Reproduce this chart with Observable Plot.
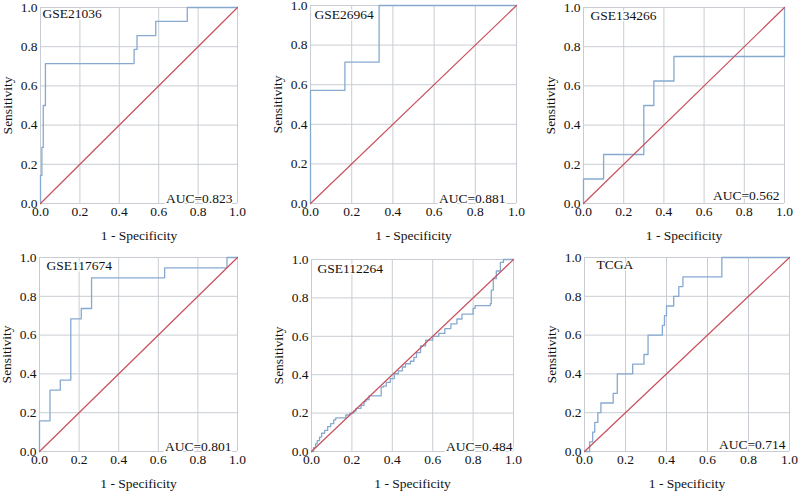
<!DOCTYPE html>
<html>
<head>
<meta charset="utf-8">
<script src="https://cdn.jsdelivr.net/npm/d3@7"></script>
<script src="https://cdn.jsdelivr.net/npm/@observablehq/plot@0.6"></script>
<style>
  html, body { margin: 0; padding: 0; background: #fff; }
  #wrap { position: relative; width: 800px; height: 491px; overflow: hidden; background: #fff; }
  #wrap > svg { position: absolute; overflow: visible; background: transparent; }
  #wrap svg, #wrap svg text { font-family: "Liberation Serif", "DejaVu Serif", serif !important; }
</style>
</head>
<body>
<div id="wrap"></div>
<script>
// ---- data ----
const titles = ["GSE21036", "GSE26964", "GSE134266", "GSE117674", "GSE112264", "TCGA"];
const aucs = ["0.823", "0.881", "0.562", "0.801", "0.484", "0.714"];
const tickValues = [0, 0.2, 0.4, 0.6, 0.8, 1.0];
const diagonal = [0, 1];

const fpr_GSE21036 = [0, 0, 0.007, 0.007, 0.014, 0.014, 0.025, 0.025, 0.475, 0.475, 0.49, 0.49, 0.585, 0.585, 0.745, 0.745, 1];
const tpr_GSE21036 = [0, 0.143, 0.143, 0.286, 0.286, 0.5, 0.5, 0.714, 0.714, 0.786, 0.786, 0.857, 0.857, 0.929, 0.929, 1, 1];

const fpr_GSE26964 = [0, 0, 0.167, 0.167, 0.333, 0.333, 1];
const tpr_GSE26964 = [0, 0.571, 0.571, 0.714, 0.714, 1, 1];

const fpr_GSE134266 = [0, 0, 0.1, 0.1, 0.3, 0.3, 0.35, 0.35, 0.45, 0.45, 1, 1];
const tpr_GSE134266 = [0, 0.125, 0.125, 0.25, 0.25, 0.5, 0.5, 0.625, 0.625, 0.75, 0.75, 1];

const fpr_GSE117674 = [0, 0, 0.053, 0.053, 0.105, 0.105, 0.158, 0.158, 0.211, 0.211, 0.263, 0.263, 0.632, 0.632, 0.947, 0.947, 1];
const tpr_GSE117674 = [0, 0.158, 0.158, 0.316, 0.316, 0.368, 0.368, 0.684, 0.684, 0.737, 0.737, 0.895, 0.895, 0.947, 0.947, 1, 1];

// step-after points (horizontal then vertical)
const fpr_GSE112264 = [0, 0.01, 0.02, 0.028, 0.04, 0.05, 0.065, 0.08, 0.095, 0.11, 0.12, 0.17, 0.19, 0.21, 0.22, 0.245, 0.26, 0.27, 0.285, 0.345, 0.355, 0.37, 0.39, 0.41, 0.43, 0.45, 0.465, 0.49, 0.507, 0.52, 0.54, 0.565, 0.6, 0.63, 0.66, 0.69, 0.72, 0.745, 0.8, 0.81, 0.885, 0.89, 0.9, 0.915, 0.935, 0.95, 1];
const tpr_GSE112264 = [0, 0.02, 0.04, 0.057, 0.075, 0.095, 0.11, 0.13, 0.145, 0.165, 0.175, 0.19, 0.2, 0.21, 0.225, 0.24, 0.26, 0.27, 0.29, 0.335, 0.34, 0.36, 0.38, 0.405, 0.42, 0.44, 0.457, 0.47, 0.49, 0.515, 0.55, 0.58, 0.6, 0.615, 0.64, 0.665, 0.69, 0.715, 0.745, 0.76, 0.77, 0.84, 0.9, 0.94, 0.985, 1, 1];

const fpr_TCGA = [0, 0.025, 0.025, 0.04, 0.04, 0.05, 0.05, 0.065, 0.065, 0.08, 0.08, 0.14, 0.14, 0.16, 0.16, 0.235, 0.235, 0.29, 0.29, 0.31, 0.31, 0.38, 0.38, 0.39, 0.39, 0.4, 0.4, 0.435, 0.435, 0.46, 0.46, 0.48, 0.48, 0.67, 0.67, 1];
const tpr_TCGA = [0, 0, 0.05, 0.05, 0.1, 0.1, 0.15, 0.15, 0.2, 0.2, 0.25, 0.25, 0.3, 0.3, 0.4, 0.4, 0.45, 0.45, 0.5, 0.5, 0.6, 0.6, 0.65, 0.65, 0.7, 0.7, 0.75, 0.75, 0.8, 0.8, 0.85, 0.85, 0.9, 0.9, 1, 1];

const fprs = [fpr_GSE21036, fpr_GSE26964, fpr_GSE134266, fpr_GSE117674, fpr_GSE112264, fpr_TCGA];
const tprs = [tpr_GSE21036, tpr_GSE26964, tpr_GSE134266, tpr_GSE117674, tpr_GSE112264, tpr_TCGA];
const curves = ["linear", "linear", "linear", "linear", "step-after", "linear"];

// ---- layout (positions / sizes) ----
const layout = [
  {left: 0,   top: 0,   w: 265, h: 245, ml: 40, mr: 28, mt: 7,  mb: 42, tdx: 2,  tdy: 1, adx: -5,  ady: -1},
  {left: 265, top: 0,   w: 265, h: 245, ml: 45, mr: 14, mt: 5,  mb: 42, tdx: 4,  tdy: 4, adx: -11, ady: -1},
  {left: 530, top: 0,   w: 270, h: 245, ml: 53, mr: 16, mt: 7,  mb: 42, tdx: 7,  tdy: 3, adx: -5,  ady: -4},
  {left: 0,   top: 245, w: 265, h: 246, ml: 39, mr: 28, mt: 12, mb: 40, tdx: 7,  tdy: 3, adx: -6,  ady: -1},
  {left: 265, top: 245, w: 265, h: 246, ml: 46, mr: 17, mt: 14, mb: 40, tdx: 6,  tdy: 4, adx: -1,  ady: -1},
  {left: 530, top: 245, w: 270, h: 246, ml: 54, mr: 11, mt: 12, mb: 40, tdx: 12, tdy: 2, adx: -4,  ady: -3}
];

const gridColor = "#c9cdd3";
const blue = "#86a9cf";
const red = "#c8505c";

function panel(i) {
  const L = layout[i];
  const pts = fprs[i].map((x, j) => ({x, y: tprs[i][j]}));
  return Plot.plot({
    width: L.w, height: L.h,
    marginLeft: L.ml, marginRight: L.mr, marginTop: L.mt, marginBottom: L.mb,
    style: {fontFamily: "'Liberation Serif', 'DejaVu Serif', serif", fontSize: "13.5px", color: "#111", background: "transparent", overflow: "visible"},
    x: {domain: [0, 1]},
    y: {domain: [0, 1]},
    marks: [
      Plot.gridX(tickValues, {stroke: gridColor, strokeOpacity: 1, strokeWidth: 1}),
      Plot.gridY(tickValues, {stroke: gridColor, strokeOpacity: 1, strokeWidth: 1}),
      Plot.axisX(tickValues, {tickSize: 0, tickPadding: 3, tickFormat: d => d.toFixed(1), label: "1 - Specificity", labelAnchor: "center", labelArrow: "none", labelOffset: 36, fontSize: 13.5}),
      Plot.axisY(tickValues, {tickSize: 0, tickPadding: 3, tickFormat: d => d.toFixed(1), label: "Sensitivity", labelAnchor: "center", labelArrow: "none", labelOffset: 38, fontSize: 13.5}),
      Plot.line(pts, {x: "x", y: "y", stroke: blue, strokeWidth: 1.3, curve: curves[i]}),
      Plot.line(diagonal, {x: d => d, y: d => d, stroke: red, strokeWidth: 1.2}),
      Plot.text([titles[i]], {frameAnchor: "top-left", dx: L.tdx, dy: L.tdy, fill: "#111", stroke: "white", strokeWidth: 3, fontSize: 13.5}),
      Plot.text(["AUC=" + aucs[i]], {frameAnchor: "bottom-right", dx: L.adx, dy: L.ady, fill: "#111", stroke: "white", strokeWidth: 3, fontSize: 13.5})
    ]
  });
}

const wrap = document.getElementById("wrap");
for (let i = 0; i < 6; i++) {
  const svg = panel(i);
  svg.style.left = layout[i].left + "px";
  svg.style.top = layout[i].top + "px";
  wrap.appendChild(svg);
}
</script>
</body>
</html>
